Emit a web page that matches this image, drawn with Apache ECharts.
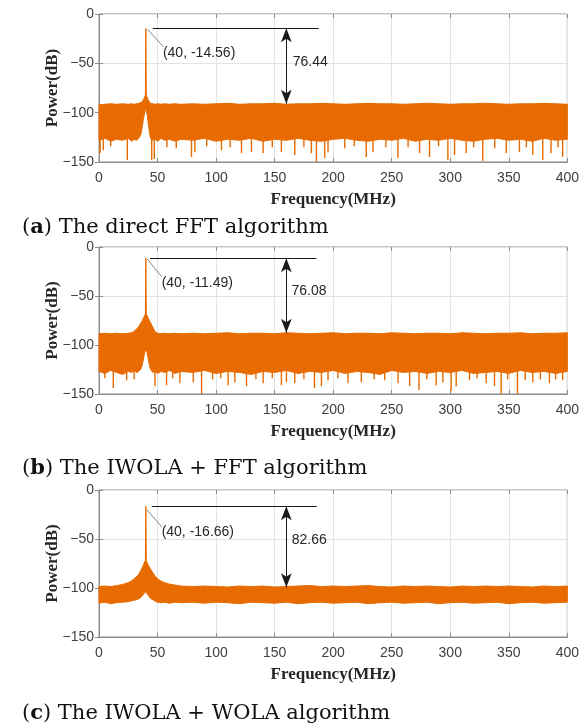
<!DOCTYPE html>
<html lang="en">
<head>
  <meta charset="UTF-8">
  <title>spectrum</title>
  <style>
    * {
      padding: 0;
      margin: 0;
    }
    #charts {
      width: 582px;
      height: 728px;
    }
  </style>
</head>
<body>
  <div id="charts"></div>
</body>
<script src="https://cdn.jsdelivr.net/npm/echarts@6/dist/echarts.min.js"></script>
<script type="text/javascript">
  // sample points in MHz, denser around the 40 MHz tone
  var freq = [0, 5, 10, 15, 20, 25, 28, 30, 32, 34,
    36, 37, 38, 39, 39.6, 40, 40.4, 41, 42, 43,
    44, 46, 48, 50, 53, 56, 60, 65, 70, 80,
    90, 100, 110, 120, 130, 140, 150, 160, 170, 180,
    190, 200, 210, 220, 230, 240, 250, 260, 270, 280,
    290, 300, 310, 320, 330, 340, 350, 360, 370, 380,
    390, 400]

  // (a) direct FFT : upper / lower edge of the noise band (dB)
  var topA = [-92, -91.5, -91, -91.5, -91, -91.5, -91, -91.5, -91, -90.5,
    -89.5, -88.5, -87, -84, -82, -14.56, -82, -84, -87, -89,
    -90.5, -91, -91.5, -91, -91.5, -91, -91.5, -91, -91.5, -91,
    -91.5, -91, -90.5, -91.5, -91, -91, -90.5, -91.5, -91, -91,
    -90.5, -91, -91.5, -91, -90.5, -91, -91, -91.5, -91, -90.5,
    -91, -91.5, -91, -91, -90.5, -91, -91.5, -91, -91, -90.5,
    -91, -91.5]
  var botA = [-128, -126, -129, -127, -128, -126, -129, -127, -128, -126,
    -121, -114, -106, -100, -97, -96, -97, -101, -110, -119,
    -126, -128, -127, -129, -126, -128, -127, -129, -127, -128,
    -126, -129, -127, -128, -126, -129, -127, -128, -126, -128,
    -129, -127, -126, -128, -129, -127, -128, -126, -129, -127,
    -128, -126, -128, -129, -127, -126, -128, -127, -129, -126,
    -128, -127]
  // downward noise spikes [MHz, dB]
  var spikesA = [[1, -141], [3.7, -138], [10, -134], [24.2, -148], [45, -148], [47.2, -147], [58, -135], [66, -136],
    [79, -145], [81.9, -140], [92, -134], [104.6, -138], [112, -135], [121.7, -141], [130.2, -140], [140.2, -141],
    [148, -135], [155.8, -140], [167.2, -143], [175, -135], [181.4, -141], [185.7, -150], [192.8, -146], [195.6, -140],
    [209.9, -136], [218, -134], [228.3, -145], [234, -140], [245, -135], [255.3, -146], [264, -135], [273.8, -141],
    [282.3, -145], [290, -134], [298, -148], [303.7, -143], [313.6, -141], [320, -135], [327.8, -149], [338, -136],
    [347.8, -141], [359.1, -140], [365, -135], [370.5, -143], [379, -148], [386.1, -141], [392, -135], [396, -145]]

  // (b) IWOLA + FFT
  var topB = [-88.5, -88, -88.5, -88, -88.5, -88, -87.5, -86, -84, -81,
    -77, -75, -72.5, -70, -68, -11.49, -68, -70, -72.5, -75,
    -77, -82, -86.5, -88, -88.5, -88, -88.5, -88, -88.5, -88,
    -88.5, -88, -87.5, -88.5, -88, -88, -88.5, -87.5, -88, -88.5,
    -88, -87.5, -88.5, -88, -88, -88.5, -87.5, -88, -88.5, -88,
    -88, -88.5, -87.5, -88, -88.5, -88, -88, -87.5, -88.5, -88,
    -88, -87.5]
  var botB = [-127, -129, -126, -128, -130, -127, -128, -126, -128, -127,
    -124, -120, -114, -108, -105, -104, -105, -108, -114, -120,
    -125, -128, -127, -129, -127, -128, -126, -129, -127, -128,
    -126, -129, -127, -128, -130, -127, -128, -126, -129, -127,
    -128, -126, -129, -127, -128, -130, -126, -128, -127, -129,
    -127, -128, -126, -129, -128, -127, -129, -126, -128, -127,
    -129, -127]
  var spikesB = [[5, -134], [12.2, -144], [23.6, -136], [30, -135], [47.8, -142], [57.7, -141], [63, -134], [69.1, -139],
    [80.5, -138], [87.6, -150], [97, -135], [104, -134], [110.3, -141], [116, -138], [126, -142], [134, -135],
    [140.2, -139], [148, -134], [155.8, -141], [160.1, -138], [167.2, -139], [175, -135], [184, -144], [190, -142],
    [195.6, -136], [204, -134], [212.7, -139], [224.1, -138], [235, -135], [244, -136], [255.4, -139], [265.3, -142],
    [273.3, -146], [280, -135], [288, -141], [293.7, -138], [300.8, -147], [305.1, -142], [316.5, -136], [323, -134],
    [330.7, -139], [337.8, -142], [343.5, -150], [349, -135], [357.4, -150], [364, -136], [370.5, -138], [377, -135],
    [384.7, -139], [390, -135], [396, -136]]

  // (c) IWOLA + WOLA
  var topC = [-98.5, -98, -98.5, -97.5, -96.5, -94.5, -92.5, -90.5, -88.5, -86,
    -81.5, -79, -76, -73.5, -72, -16.66, -72, -74, -76.5, -78.5,
    -80.5, -84.5, -88, -90.5, -93, -94.5, -96, -97, -98, -98.5,
    -98, -98.5, -99, -98, -98.5, -98, -99, -98.5, -98, -97.5,
    -98.5, -98, -98.5, -98, -97.5, -98.5, -99, -98, -98.5, -98,
    -98.5, -99, -98, -98.5, -98, -98.5, -98, -98.5, -99, -98,
    -98.5, -98]
  var botC = [-115.5, -114.5, -116, -115, -114.5, -114, -113, -112.5, -112, -111,
    -109.5, -108, -106.5, -105, -104, -103.5, -104, -105.5, -107.5, -109,
    -110.5, -112, -113.5, -114.5, -115, -114.5, -115.5, -114.5, -115, -114.5,
    -115.5, -114.5, -115, -116, -114.5, -115, -115.5, -114.5, -116, -115,
    -114.5, -115.5, -115, -114.5, -116, -115, -114.5, -115.5, -115, -114.5,
    -116, -115, -114.5, -115.5, -115, -114.5, -116, -115, -114.5, -115.5,
    -115, -114.5]
  var spikesC = []

  var peakDb = [-14.56, -11.49, -16.66]
  var gapDb = [76.44, 76.08, 82.66]
  var capTag = ['a', 'b', 'c']
  var capText = [' The direct FFT algorithm', ' The IWOLA + FFT algorithm', ' The IWOLA + WOLA algorithm']

  var uppers = [topA, topB, topC], lowers = [botA, botB, botC], spikes = [spikesA, spikesB, spikesC]

  // layout
  var ORANGE = '#e76b00'
  var axisColor = '#8c8c8c', labelColor = '#404040', gridColor = '#e4e4e4'
  var gridTop = [14, 247, 490], gridHeight = [148, 147, 147], capTop = [216, 457, 702]
  var hLine = [[46, 187.7], [43.5, 185.7], [45, 186]]
  var leadFrom = [[41.5, -15.5], [41.5, -12.6], [41, -20.4]]
  var leadTo = [[54.9, -33.1], [53.5, -30.3], [53.5, -37.4]]
  var peakLabelAt = [[54.6, -39.5], [53.5, -36.4], [53.5, -42.5]]
  var gapLabelAt = [[165.5, -48.6], [164.4, -44.9], [164.6, -51]]
  var arrowX = 160

  var myChart = echarts.init(document.getElementById('charts'))

  function minus(v) {
    return String(v).replace('-', '\u2212')
  }

  // whole noise band as one polygon: upper edge forward, lower edge back
  function bandItem(upper, lower) {
    return function (params, api) {
      if (params.dataIndex !== 0) return null
      var pts = []
      for (var k = 0; k < freq.length; k++) pts.push(api.coord([freq[k], upper[k]]))
      for (var k = freq.length - 1; k >= 0; k--) pts.push(api.coord([freq[k], lower[k]]))
      return {
        type: 'polygon',
        shape: { points: pts },
        style: { fill: ORANGE, stroke: ORANGE, lineWidth: 1 }
      }
    }
  }

  function spikeItem(params, api) {
    var a = api.coord([api.value(0), -124])
    var b = api.coord([api.value(0), api.value(1)])
    return {
      type: 'line',
      shape: { x1: a[0], y1: a[1], x2: b[0], y2: b[1] },
      style: { stroke: ORANGE, lineWidth: 1.4 }
    }
  }

  var grid = [], xAxis = [], yAxis = [], series = [], title = []
  for (var i = 0; i < 3; i++) {
    grid.push({ left: 99, top: gridTop[i], width: 469, height: gridHeight[i], show: true, borderColor: axisColor, borderWidth: 1 })
    title.push({
      left: 22, top: capTop[i], padding: 0,
      text: '{p|(}{b|' + capTag[i] + '}{p|)' + capText[i] + '}',
      textStyle: {
        rich: {
          p: { fontFamily: 'DejaVu Serif', fontSize: 21, lineHeight: 24, fontWeight: 'normal', color: '#111' },
          b: { fontFamily: 'DejaVu Serif', fontSize: 21, lineHeight: 24, fontWeight: 'bold', color: '#111' }
        }
      }
    })
  }
  for (var i = 0; i < 3; i++) {
    xAxis.push({
      type: 'value', gridIndex: i, min: 0, max: 400, interval: 50, position: 'bottom',
      axisLine: { show: true, onZero: false, lineStyle: { color: axisColor } },
      axisTick: { show: true, inside: true, length: 4, lineStyle: { color: axisColor } },
      axisLabel: { color: labelColor, fontSize: 14, fontFamily: 'Liberation Sans', margin: 9 },
      splitLine: { show: true, lineStyle: { color: gridColor } },
      name: 'Frequency(MHz)', nameLocation: 'middle', nameGap: 29, nameMoveOverlap: false,
      nameTextStyle: { fontFamily: 'Liberation Serif', fontWeight: 'bold', fontSize: 17, color: '#262626' }
    })
    yAxis.push({
      type: 'value', gridIndex: i, min: -150, max: 0, interval: 50, position: 'left',
      axisLine: { show: true, onZero: false, lineStyle: { color: axisColor } },
      axisTick: { show: true, inside: true, length: 4, lineStyle: { color: axisColor } },
      axisLabel: { color: labelColor, fontSize: 14, fontFamily: 'Liberation Sans', margin: 5, formatter: minus },
      splitLine: { show: true, lineStyle: { color: gridColor } },
      name: 'Power(dB)', nameLocation: 'middle', nameGap: 38, nameMoveOverlap: false,
      nameTextStyle: { fontFamily: 'Liberation Serif', fontWeight: 'bold', fontSize: 17, color: '#262626' }
    })
  }
  // box ticks on top and right, like matlab
  for (var i = 0; i < 3; i++) {
    xAxis.push({
      type: 'value', gridIndex: i, min: 0, max: 400, interval: 50, position: 'top',
      axisLine: { show: false }, axisLabel: { show: false }, splitLine: { show: false },
      axisTick: { show: true, inside: true, length: 4, lineStyle: { color: axisColor } }
    })
    yAxis.push({
      type: 'value', gridIndex: i, min: -150, max: 0, interval: 50, position: 'right',
      axisLine: { show: false }, axisLabel: { show: false }, splitLine: { show: false },
      axisTick: { show: true, inside: true, length: 4, lineStyle: { color: axisColor } }
    })
  }

  for (var i = 0; i < 3; i++) {
    var upper = uppers[i], lower = lowers[i], peak = peakDb[i], gap = gapDb[i]
    series.push({
      type: 'custom', xAxisIndex: i, yAxisIndex: i, silent: true,
      renderItem: bandItem(upper, lower), encode: { x: 0, y: [1, 2] },
      data: freq.map(function (f, k) { return [f, upper[k], lower[k]] }),
      markLine: {
        silent: true, symbol: 'none', label: { show: false }, animation: false,
        lineStyle: { color: '#1a1a1a', width: 1, type: 'solid' },
        data: [
          [{ coord: [hLine[i][0], peak] }, { coord: [hLine[i][1], peak] }],
          [{ coord: leadFrom[i], lineStyle: { color: '#666', width: 0.8 } }, { coord: leadTo[i], lineStyle: { color: '#666', width: 0.8 } }],
          [{ coord: [arrowX, peak], symbol: 'arrow', symbolSize: [8, 14] },
           { coord: [arrowX, peak - gap], symbol: 'arrow', symbolSize: [8, 14] }]
        ]
      },
      markPoint: {
        silent: true, symbol: 'circle', symbolSize: 0, animation: false,
        label: { show: true, position: 'right', distance: 0, color: '#262626', fontSize: 14, fontFamily: 'Liberation Sans' },
        data: [
          { coord: peakLabelAt[i], label: { formatter: '(40, ' + peak.toFixed(2) + ')' } },
          { coord: gapLabelAt[i], label: { formatter: gap.toFixed(2) } }
        ]
      }
    })
    series.push({
      type: 'custom', xAxisIndex: i, yAxisIndex: i, silent: true,
      renderItem: spikeItem, encode: { x: 0, y: 1 },
      data: spikes[i]
    })
  }

  myChart.setOption({
    animation: false,
    title: title,
    grid: grid,
    xAxis: xAxis,
    yAxis: yAxis,
    series: series
  })
</script>
</html>
